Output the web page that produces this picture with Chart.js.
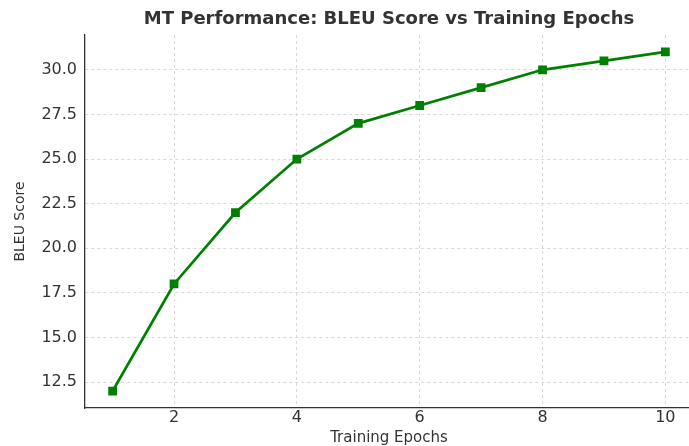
<!DOCTYPE html>
<html lang="en">
<head>
    <meta charset="UTF-8">
    <title>MT Performance: BLEU Score vs Training Epochs</title>
    <script src="https://cdn.jsdelivr.net/npm/chart.js"></script>
    <style>
        body {
            margin: 0;
            overflow: hidden;
            background: #fff;
        }
        #wrap {
            width: 700px;
            height: 446px;
        }
    </style>
</head>
<body>
    <div id="wrap"><canvas id="myChart"></canvas></div>

    <script>
        const epochs = [1, 2, 3, 4, 5, 6, 7, 8, 9, 10];
        const bleuScores = [12, 18, 22, 25, 27, 28, 29, 30, 30.5, 31];
        const xTicks = [2, 4, 6, 8, 10];
        const yTicks = [12.5, 15, 17.5, 20, 22.5, 25, 27.5, 30];

        const font = 'DejaVu Sans';
        const ctx = document.getElementById('myChart').getContext('2d');

        new Chart(ctx, {
            type: 'line',
            data: {
                datasets: [{
                    label: 'BLEU Score',
                    data: epochs.map((e, i) => ({ x: e, y: bleuScores[i] })),
                    borderColor: '#008000',
                    backgroundColor: '#008000',
                    borderWidth: 2.7,
                    pointStyle: 'rect',
                    pointRadius: 4.3,
                    tension: 0
                }]
            },
            options: {
                responsive: true,
                maintainAspectRatio: false,
                animation: false,
                layout: { padding: { left: 0, right: 6, top: 0, bottom: 0 } },
                plugins: {
                    legend: { display: false },
                    tooltip: { enabled: false },
                    title: {
                        display: true,
                        fullSize: false,
                        text: 'MT Performance: BLEU Score vs Training Epochs',
                        color: '#333',
                        font: { family: font, size: 18, weight: 'bold' },
                        padding: { top: 9, bottom: 4.4 }
                    }
                },
                scales: {
                    x: {
                        type: 'linear',
                        min: 0.55,
                        max: 10.45,
                        afterBuildTicks: s => { s.ticks = xTicks.map(v => ({ value: v })); },
                        afterFit: s => { s.height = 38; },
                        ticks: {
                            color: '#333',
                            font: { family: font, size: 16 },
                            padding: 0,
                            callback: v => String(v)
                        },
                        grid: {
                            color: '#d9d9d9',
                            drawTicks: false
                        },
                        border: { color: '#333', width: 1.3, dash: [3, 3] },
                        title: {
                            display: true,
                            text: 'Training Epochs',
                            color: '#333',
                            font: { family: font, size: 15, lineHeight: 1 },
                            padding: 0
                        }
                    },
                    y: {
                        type: 'linear',
                        min: 11.05,
                        max: 31.95,
                        afterBuildTicks: s => { s.ticks = yTicks.map(v => ({ value: v })); },
                        afterFit: s => { s.width = 85; },
                        ticks: {
                            color: '#333',
                            font: { family: font, size: 16 },
                            padding: 8,
                            callback: v => v.toFixed(1)
                        },
                        grid: {
                            color: '#d9d9d9',
                            drawTicks: false
                        },
                        border: { color: '#333', width: 1.3, dash: [3, 3] },
                        title: {
                            display: true,
                            text: 'BLEU Score',
                            color: '#333',
                            font: { family: font, size: 14, lineHeight: 1 },
                            padding: { top: 13, bottom: 0 }
                        }
                    }
                }
            }
        });
    </script>
</body>
</html>
